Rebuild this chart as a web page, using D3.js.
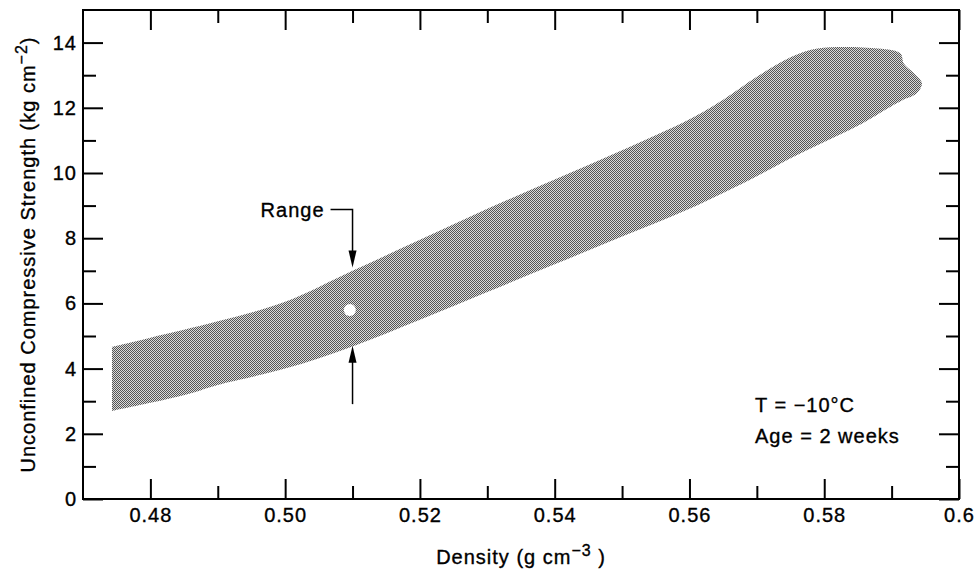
<!DOCTYPE html>
<html>
<head>
<meta charset="utf-8">
<script src="https://cdn.jsdelivr.net/npm/d3@7/dist/d3.min.js"></script>
<style>
  body { margin: 0; background: #fff; }
  text { font-family: "Liberation Sans", Arial, sans-serif; fill: #000; letter-spacing: 1px;
         stroke: #000; stroke-width: 0.35px; }
</style>
</head>
<body>
<div id="chart"></div>
<script>
// tick values and labels
var xMajor = [0.48, 0.50, 0.52, 0.54, 0.56, 0.58, 0.60];
var xLabels = ["0.48", "0.50", "0.52", "0.54", "0.56", "0.58", "0.6"];
var xMinor = [0.49, 0.51, 0.53, 0.55, 0.57, 0.59];
var yMajor = [0, 2, 4, 6, 8, 10, 12, 14];
var yMinor = [1, 3, 5, 7, 9, 11, 13];

// band outline: upper edge left->right incl. right cap, lower edge left->right
var upperEdge = [
  [0.4743, 4.67], [0.48, 4.95], [0.49, 5.45], [0.50, 6.05], [0.51, 7.0],
  [0.52, 7.95], [0.53, 8.9], [0.54, 9.8], [0.55, 10.7], [0.56, 11.65],
  [0.565, 12.25], [0.57, 12.95], [0.575, 13.55], [0.579, 13.82], [0.588, 13.82],
  [0.5913, 13.67], [0.5918, 13.36], [0.5933, 13.06], [0.5945, 12.75],
  [0.5937, 12.44], [0.5922, 12.29]
];
var lowerEdge = [
  [0.4743, 2.70], [0.48, 2.95], [0.4859, 3.24], [0.49, 3.5], [0.50, 4.0],
  [0.51, 4.68], [0.52, 5.5], [0.53, 6.35], [0.54, 7.2], [0.55, 8.05],
  [0.56, 8.9], [0.57, 9.9], [0.575, 10.45], [0.58, 10.95], [0.585, 11.45],
  [0.59, 12.05], [0.5922, 12.29]
];
var gapPoint = [0.5096, 5.8];

// "Range" annotation (data units)
var rangeX = 0.51;
var rangeTop = 7.1, rangeBottom = 4.7;
var rangeLineTop = 8.88, rangeLineBottom = 2.91;

var width = 978, height = 573;
var margin = { top: 10, right: 19, bottom: 74, left: 83 };

var svg = d3.select("#chart").append("svg")
  .attr("width", width)
  .attr("height", height);

var x = d3.scaleLinear().domain([0.47, 0.60]).range([margin.left, width - margin.right]);
var y = d3.scaleLinear().domain([0, 15]).range([height - margin.bottom, margin.top]);

var defs = svg.append("defs");
var pat = defs.append("pattern")
  .attr("id", "dots")
  .attr("width", 2).attr("height", 2)
  .attr("patternUnits", "userSpaceOnUse");
pat.append("rect").attr("width", 2).attr("height", 2).attr("fill", "#dadada");
pat.append("rect").attr("x", 0).attr("y", 0).attr("width", 1).attr("height", 1).attr("fill", "#555");
pat.append("rect").attr("x", 1).attr("y", 1).attr("width", 1).attr("height", 1).attr("fill", "#555");

// band: smooth upper and lower edges joined into one shape
var edge = d3.line()
  .x(function(d) { return x(d[0]); })
  .y(function(d) { return y(d[1]); })
  .curve(d3.curveCatmullRom.alpha(0.5));

var bandPath = edge(upperEdge) + "L" + edge(lowerEdge.slice().reverse()).slice(1) + "Z";

svg.append("path")
  .attr("d", bandPath)
  .attr("fill", "url(#dots)")
  .attr("stroke", "none");

svg.append("circle")
  .attr("cx", x(gapPoint[0]))
  .attr("cy", y(gapPoint[1]))
  .attr("r", 6)
  .attr("fill", "#fff");

// axes: ticks drawn inward on all four sides
function styleAxis(g) {
  g.select(".domain").remove();
  g.selectAll(".tick line").attr("stroke", "#000").attr("stroke-width", 2);
  g.selectAll(".tick text").attr("font-size", 20).attr("fill", "#000");
}

var bottomY = height - margin.bottom;
var rightX = width - margin.right;

svg.append("g")
  .attr("transform", "translate(0," + bottomY + ")")
  .call(d3.axisBottom(x).tickValues(xMajor).tickSize(-20).tickPadding(9)
    .tickFormat(function(d, i) { return xLabels[i]; }))
  .call(styleAxis);
svg.append("g")
  .attr("transform", "translate(0," + bottomY + ")")
  .call(d3.axisBottom(x).tickValues(xMinor).tickSize(-13).tickFormat(""))
  .call(styleAxis);
svg.append("g")
  .attr("transform", "translate(0," + margin.top + ")")
  .call(d3.axisTop(x).tickValues(xMajor).tickSize(-20).tickFormat(""))
  .call(styleAxis);
svg.append("g")
  .attr("transform", "translate(0," + margin.top + ")")
  .call(d3.axisTop(x).tickValues(xMinor).tickSize(-13).tickFormat(""))
  .call(styleAxis);

svg.append("g")
  .attr("transform", "translate(" + margin.left + ",0)")
  .call(d3.axisLeft(y).tickValues(yMajor).tickSize(-20).tickPadding(6))
  .call(styleAxis);
svg.append("g")
  .attr("transform", "translate(" + margin.left + ",0)")
  .call(d3.axisLeft(y).tickValues(yMinor).tickSize(-13).tickFormat(""))
  .call(styleAxis);
svg.append("g")
  .attr("transform", "translate(" + rightX + ",0)")
  .call(d3.axisRight(y).tickValues(yMajor).tickSize(-20).tickFormat(""))
  .call(styleAxis);
svg.append("g")
  .attr("transform", "translate(" + rightX + ",0)")
  .call(d3.axisRight(y).tickValues(yMinor).tickSize(-13).tickFormat(""))
  .call(styleAxis);

// frame
svg.append("rect")
  .attr("x", margin.left)
  .attr("y", margin.top)
  .attr("width", rightX - margin.left)
  .attr("height", bottomY - margin.top)
  .attr("fill", "none")
  .attr("stroke", "#000")
  .attr("stroke-width", 2);

// Range annotation
var ax = x(rangeX);
svg.append("path")
  .attr("d", "M" + (ax - 22) + "," + y(rangeLineTop) + "H" + ax + "V" + (y(rangeTop) - 15))
  .attr("fill", "none").attr("stroke", "#000").attr("stroke-width", 1.5);
svg.append("path")
  .attr("d", "M" + (ax - 4) + "," + (y(rangeTop) - 17) + "L" + (ax + 4) + "," + (y(rangeTop) - 17) + "L" + ax + "," + y(rangeTop) + "Z")
  .attr("fill", "#000");
svg.append("path")
  .attr("d", "M" + ax + "," + y(rangeLineBottom) + "V" + (y(rangeBottom) + 15))
  .attr("fill", "none").attr("stroke", "#000").attr("stroke-width", 1.5);
svg.append("path")
  .attr("d", "M" + (ax - 4) + "," + (y(rangeBottom) + 17) + "L" + (ax + 4) + "," + (y(rangeBottom) + 17) + "L" + ax + "," + y(rangeBottom) + "Z")
  .attr("fill", "#000");
svg.append("text")
  .attr("x", ax - 28)
  .attr("y", y(rangeLineTop) + 7)
  .attr("text-anchor", "end")
  .attr("font-size", 20)
  .text("Range");

// conditions note
svg.append("text").attr("x", 755).attr("y", 412).attr("font-size", 20).text("T = \u221210\u00b0C");
svg.append("text").attr("x", 755).attr("y", 443).attr("font-size", 20).text("Age = 2 weeks");

// axis titles
var xt = svg.append("text")
  .attr("x", (margin.left + rightX) / 2)
  .attr("y", 564)
  .attr("text-anchor", "middle")
  .attr("font-size", 20);
xt.append("tspan").text("Density (g cm");
xt.append("tspan").attr("font-size", 16).attr("dy", -8).text("\u22123");
xt.append("tspan").attr("dy", 8).text(" )");

var yt = svg.append("text")
  .attr("transform", "translate(35," + ((margin.top + bottomY) / 2) + ") rotate(-90)")
  .attr("text-anchor", "middle")
  .attr("font-size", 20);
yt.append("tspan").text("Unconfined Compressive Strength (kg cm");
yt.append("tspan").attr("font-size", 16).attr("dy", -8).text("\u22122");
yt.append("tspan").attr("dy", 8).text(")");
</script>
</body>
</html>
